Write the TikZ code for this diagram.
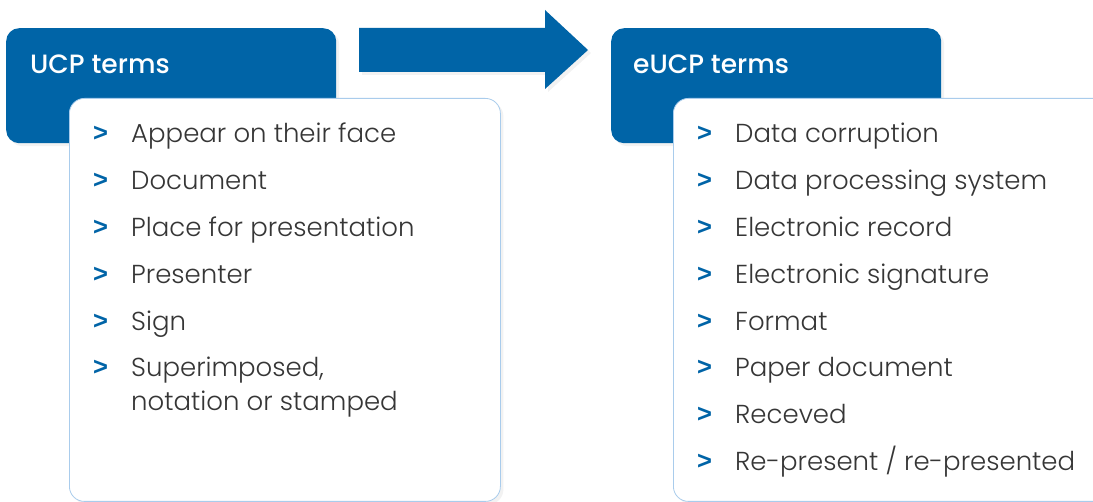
\documentclass[tikz,border=0pt]{standalone}
\usepackage{fontspec}
\setmainfont{Poppins}[UprightFont=* Light, BoldFont=* Medium]
\newfontfamily\markfont{Liberation Sans}
\usetikzlibrary{shadows}
\definecolor{termblue}{HTML}{0064A7}
\definecolor{edgeblue}{HTML}{A9CCEC}
\definecolor{textgrey}{HTML}{363636}
\tikzset{
    headbox/.style={
        fill=termblue,
        rounded corners=13pt,
        minimum width=330pt,
        minimum height=115pt,
        inner sep=0pt,
        anchor=north west
    },
    headtext/.style={
        text=white,
        font=\fontsize{26.5}{30}\selectfont\bfseries,
        inner sep=0pt,
        anchor=base west
    },
    listbox/.style={
        draw=edgeblue,
        line width=0.8pt,
        fill=white,
        rounded corners=15pt,
        minimum width=431pt,
        minimum height=403pt,
        inner sep=0pt,
        anchor=north west
    },
    bulletmark/.style={
        text=termblue,
        font=\fontsize{25.5}{28}\markfont\bfseries,
        inner sep=0pt,
        anchor=base west
    },
    termitem/.style={
        text=textgrey,
        font=\fontsize{26}{34}\selectfont,
        align=left,
        inner sep=0pt,
        anchor=base west
    },
    softshadow/.style={
        drop shadow={shadow xshift=3pt, shadow yshift=-3pt, opacity=0.10}
    }
}

\begin{document}
\begin{tikzpicture}[x=1pt, y=-1pt]
    \clip (0,0) rectangle (1093,502);
    \fill[white] (0,0) rectangle (1093,502);
    % UCP side
    \node[headbox, softshadow] (ucp) at (6,28) {};
    \node[headtext] (ucptitle) at (30,74) {UCP terms};
    \node[listbox, softshadow] (ucplist) at (69,98) {};
    \foreach \term [count=\i] in {Appear on their face, Document, Place for presentation, Presenter, Sign} {
        \node[bulletmark] (ucpmark\i) at (93,{142+46.8*(\i-1)}) {>};
        \node[termitem] (ucpterm\i) at (131,{143+46.8*(\i-1)}) {\term};
    }
    % two-line entry, based on its last line
    \node[bulletmark] (ucpmark6) at (93,376) {>};
    \node[termitem] (ucpterm6) at (131,411) {Superimposed,\\notation or stamped};
    % Arrow
    \fill[termblue, softshadow] (359,28) -- (545,28) -- (545,10) -- (588,50)
        -- (545,89) -- (545,72) -- (359,72) -- cycle;
    % eUCP side
    \node[headbox, softshadow] (eucp) at (611,28) {};
    \node[headtext] (eucptitle) at (633,74) {eUCP terms};
    \node[listbox, softshadow, minimum width=450pt] (euculist) at (673,98) {};
    \foreach \term [count=\i] in {Data corruption, Data processing system, Electronic record, Electronic signature, Format, Paper document, Receved, Re-present / re-presented} {
        \node[bulletmark] (eucpmark\i) at (697,{142+46.8*(\i-1)}) {>};
        \node[termitem] (eucpterm\i) at (735,{143+46.8*(\i-1)}) {\term};
    }
\end{tikzpicture}
\end{document}
